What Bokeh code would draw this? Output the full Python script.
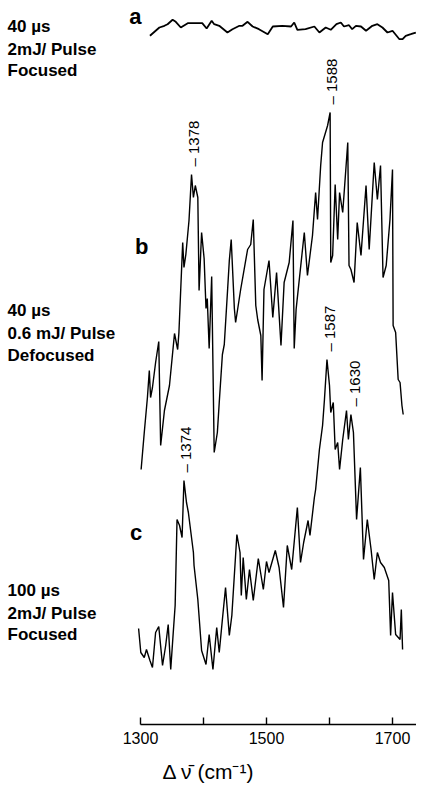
import numpy as np
from bokeh.plotting import figure
from bokeh.models import Range1d, FixedTicker, LinearAxis
from bokeh.core.properties import value
from bokeh.embed import file_html
from bokeh.resources import INLINE

# ---------------- data (wavenumber in cm-1, intensity in arbitrary units) ----------------
wn_a = [1315, 1330, 1338, 1343, 1351, 1356, 1364, 1375, 1398, 1405, 1413, 1417, 1425, 1438, 1446,
        1457, 1462, 1470, 1478, 1488, 1502, 1510, 1525, 1539, 1544, 1549, 1562, 1576, 1584, 1594,
        1602, 1611, 1618, 1623, 1631, 1636, 1642, 1650, 1658, 1668, 1676, 1684, 1692, 1700, 1711,
        1716, 1721, 1729, 1737]
int_a = [6.7, 15, 16.7, 18.3, 22.7, 20.7, 15, 19.3, 19.3, 14, 21.7, 18.3, 16.7, 10, 13.3,
         16.7, 16.7, 20.7, 16, 13.3, 8.3, 16, 16.7, 16, 20, 12.7, 13.3, 16, 10, 15,
         12.7, 18.3, 20, 16, 17.3, 13.3, 16.7, 16, 11.7, 16.7, 18.3, 15, 10, 11.7, 3.3,
         3.3, 6.7, 8.3, 10]

wn_b = [1301, 1306, 1311, 1314, 1316, 1319, 1324, 1329, 1332, 1338, 1346, 1354, 1359, 1361, 1367,
        1369, 1372, 1377, 1381, 1384, 1387, 1391, 1393, 1397, 1401, 1404, 1406, 1409, 1413, 1417,
        1422, 1425, 1430, 1433, 1438, 1441, 1444, 1449, 1451, 1459, 1470, 1475, 1479, 1483, 1486,
        1491, 1493, 1496, 1504, 1510, 1516, 1523, 1528, 1536, 1542, 1544, 1547, 1560, 1565, 1573,
        1578, 1581, 1586, 1589, 1597, 1601, 1602, 1605, 1609, 1613, 1616, 1621, 1629, 1631, 1634,
        1639, 1644, 1650, 1658, 1663, 1671, 1676, 1681, 1685, 1690, 1696, 1700, 1701, 1705, 1709,
        1712, 1715, 1717]
int_b = [3, 40, 75, 102, 75, 85, 110, 131, 27, 62, 87, 139, 123, 140, 230,
         205, 218, 252, 298, 275, 287, 275, 182, 240, 214, 164, 174, 124, 196, 20,
         40, 70, 118, 128, 180, 212, 233, 164, 150, 183, 223, 228, 253, 167, 153,
         137, 92, 183, 212, 155, 200, 127, 190, 210, 252, 124, 163, 240, 197, 237,
         280, 253, 307, 330, 347, 360, 210, 217, 288, 233, 280, 260, 330, 207, 203,
         190, 250, 217, 287, 223, 310, 273, 307, 195, 207, 253, 303, 147, 140, 93,
         90, 67, 58]

wn_c = [1297, 1300.5, 1306, 1309.5, 1315, 1319, 1324, 1329, 1335, 1340, 1344, 1348, 1352, 1355, 1358,
        1362, 1366, 1369, 1373, 1376, 1380, 1384, 1385, 1391, 1397, 1404, 1409, 1415, 1421, 1425,
        1430, 1435, 1441, 1445, 1453, 1458, 1460, 1463, 1468, 1473, 1479, 1487, 1495, 1500, 1504,
        1514, 1520, 1527, 1533, 1540, 1549, 1554, 1559, 1566, 1569, 1576, 1578, 1584, 1589, 1592,
        1596, 1600, 1602, 1606, 1609, 1613, 1616, 1621, 1627, 1630, 1634, 1638, 1643, 1649, 1654,
        1660, 1666, 1671, 1676, 1681, 1687, 1694, 1697, 1700, 1705, 1712, 1714, 1716]
int_c = [64, 40, 35, 43, 32, 25, 60, 66, 27, 47, 68, 23, 60, 87, 173,
         167, 155, 212, 190, 180, 160, 140, 127, 93, 42, 28, 58, 23, 65, 40,
         73, 105, 57, 77, 158, 140, 97, 135, 93, 123, 92, 134, 103, 131, 120,
         142, 125, 85, 147, 123, 185, 130, 150, 172, 157, 195, 203, 243, 267, 293,
         333, 307, 280, 290, 243, 250, 223, 253, 282, 253, 278, 260, 173, 225, 133,
         173, 143, 113, 140, 130, 125, 112, 57, 100, 58, 53, 83, 43]

# vertical stacking offsets of the three traces
offsets = {"a": 682, "b": 252, "c": 32}

tick_values = [1300, 1400, 1500, 1600, 1700]
tick_text = {1300: "1300", 1400: "", 1500: "1500", 1600: "", 1700: "1700"}
axis_title = "\u0394 \u03bd\u0304 (cm\u207b\u00b9)"

peak_pos_b = [1384, 1603]
peak_lbl_b = ["1378", "1588"]
peak_pos_c = [1372, 1600, 1640]
peak_lbl_c = ["1374", "1587", "1630"]

cond_lines = [
    ["40 µs", "2mJ/ Pulse", "Focused"],
    ["40 µs", "0.6 mJ/ Pulse", "Defocused"],
    ["100 µs", "2mJ/ Pulse", "Focused"],
]
cond_y = [[698, 675, 654], [414, 391, 369], [134, 111, 90]]
trace_letters = ["a", "b", "c"]

# ---------------- figure ----------------
X0, X1 = 1077.8, 1738.1
p = figure(frame_width=416, frame_height=724,
           x_range=Range1d(X0, X1), y_range=Range1d(0, 724),
           output_backend="svg", toolbar_location=None,
           x_axis_location=None, y_axis_location=None,
           min_border_left=0, min_border_right=0, min_border_top=0, min_border_bottom=62)
p.outline_line_color = None
p.background_fill_color = "white"
p.border_fill_color = "white"
for g in p.grid:
    g.visible = False

ax = LinearAxis(ticker=FixedTicker(ticks=tick_values), bounds=(1300, X1))
ax.major_label_overrides = tick_text
ax.major_tick_in = 7
ax.major_tick_out = 0
ax.minor_tick_in = 0
ax.minor_tick_out = 0
ax.axis_line_width = 1.6
ax.axis_line_color = "black"
ax.major_tick_line_width = 1.4
ax.major_tick_line_color = "black"
ax.major_label_standoff = 7
ax.major_label_text_font = "Liberation Sans"
ax.major_label_text_font_size = "16px"
ax.major_label_text_color = "black"
p.add_layout(ax, "below")

# second (invisible) axis carrying only the axis title
ax2 = LinearAxis(ticker=FixedTicker(ticks=[]), bounds=(1300, 1709.5))
ax2.axis_line_color = None
ax2.major_tick_line_color = None
ax2.minor_tick_line_color = None
ax2.major_label_text_font_size = "0px"
ax2.axis_label = axis_title
ax2.axis_label_standoff = 13
ax2.axis_label_text_font = "Liberation Sans"
ax2.axis_label_text_font_size = "21px"
ax2.axis_label_text_font_style = "normal"
ax2.axis_label_text_color = "black"
p.add_layout(ax2, "below")

def shifted(vals, off):
    return [v + off for v in vals]

p.line(wn_a, shifted(int_a, offsets["a"]), line_color="black", line_width=1.8)
p.line(wn_b, shifted(int_b, offsets["b"]), line_color="black", line_width=1.4)
p.line(wn_c, shifted(int_c, offsets["c"]), line_color="black", line_width=1.4)

def peak_label_y(positions, wn, iv, off, gap=8):
    wn = np.asarray(wn, float)
    iv = np.asarray(iv, float)
    out = []
    for x in positions:
        m = np.abs(wn - x) <= 6
        out.append(float(iv[m].max()) + off + gap)
    return out

lab_x = peak_pos_b + peak_pos_c
lab_y = (peak_label_y(peak_pos_b, wn_b, int_b, offsets["b"]) +
         peak_label_y(peak_pos_c, wn_c, int_c, offsets["c"]))
lab_t = ["\u2013 " + s for s in peak_lbl_b + peak_lbl_c]
p.text(x=lab_x, y=lab_y, text=lab_t, angle=np.pi / 2,
       text_align="left", text_baseline="middle",
       text_font=value("Liberation Sans"), text_font_size="15px", text_color="black")

# condition captions on the left
cx, cy, ct = [], [], []
for lines, ys in zip(cond_lines, cond_y):
    for t, y in zip(lines, ys):
        cx.append(1089)
        cy.append(y)
        ct.append(t)
p.text(x=cx, y=cy, text=ct, text_align="left", text_baseline="middle",
       text_font=value("Liberation Sans"), text_font_size="17px",
       text_font_style="bold", text_color="black")

# trace letters
p.text(x=[1292, 1302, 1293], y=[708, 478, 192], text=trace_letters,
       text_align="center", text_baseline="middle",
       text_font=value("Liberation Sans"), text_font_size="22px",
       text_font_style="bold", text_color="black")

open("out.html", "w").write(file_html(p, INLINE))
